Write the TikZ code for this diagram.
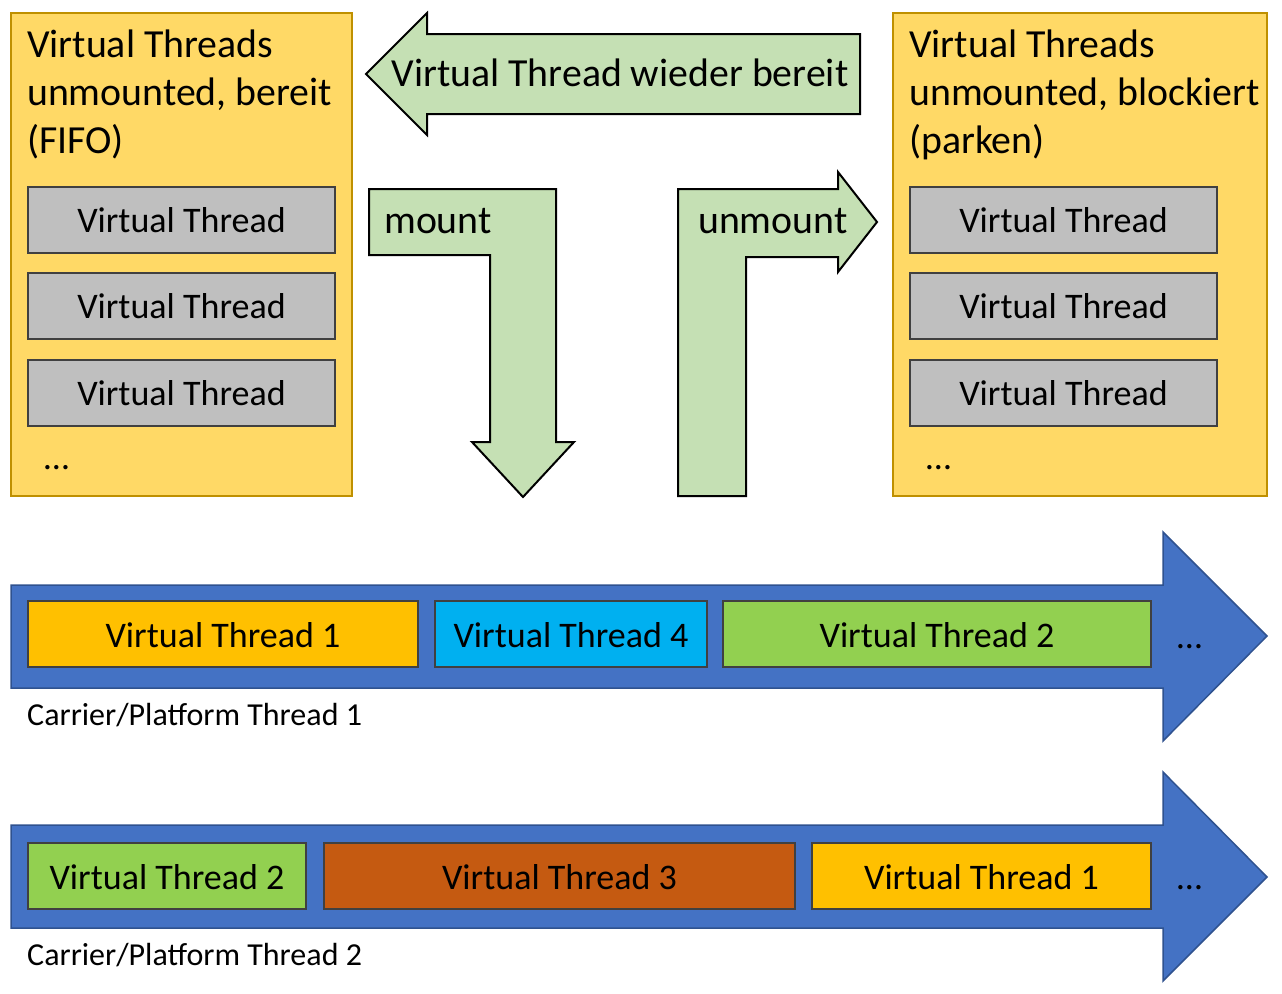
\documentclass[tikz,border=0pt]{standalone}
\usepackage{fontspec}
\setmainfont{Carlito}
\definecolor{ybox}{HTML}{FFD966}
\definecolor{yborder}{HTML}{BF9000}
\definecolor{gbox}{HTML}{BFBFBF}
\definecolor{dborder}{HTML}{404040}
\definecolor{garrow}{HTML}{C5E0B4}
\definecolor{barrow}{HTML}{4472C4}
\definecolor{bborder}{HTML}{2F528F}
\definecolor{cgold}{HTML}{FFC000}
\definecolor{ccyan}{HTML}{00B0F0}
\definecolor{clime}{HTML}{92D050}
\definecolor{corange}{HTML}{C55A11}
\begin{document}
\begin{tikzpicture}[x=1pt,y=-1pt,
  titlefont/.style={font=\fontsize{39.8}{48}\selectfont},
  boxfont/.style={font=\fontsize{36}{43}\selectfont},
  panel/.style={fill=ybox,draw=yborder,line width=2pt},
  vtbox/.style={draw=dborder,line width=2.5pt,inner sep=0pt,outer sep=0pt},
  vtlabel/.style={boxfont,anchor=base,inner sep=0pt},
  greenarrow/.style={fill=garrow,draw=black,line width=2pt,line join=miter},
  bluearrow/.style={fill=barrow,draw=bborder,line width=1.5pt,line join=miter},
  txt/.style={inner sep=0pt,anchor=base west}
]
\useasboundingbox (0,0) rectangle (1282,993);

% left panel
\draw[panel] (11,13) rectangle (352,496);
\node[txt,titlefont,align=left] (lt) at (27,153) {Virtual Threads\\unmounted, bereit\\(FIFO)};
\foreach \y/\n in {187/a,273/b,360/c}{
  \draw[vtbox,fill=gbox] (28,\y) rectangle (335,\y+66);
  \node[vtlabel] (l\n) at (181.5,\y+45.7) {Virtual Thread};
}
\node[txt,boxfont] (ldots) at (44,469) {…};

% right panel
\draw[panel] (893,13) rectangle (1267,496);
\node[txt,titlefont,align=left] (rt) at (909,153) {Virtual Threads\\unmounted, blockiert\\(parken)};
\foreach \y/\n in {187/a,273/b,360/c}{
  \draw[vtbox,fill=gbox] (910,\y) rectangle (1217,\y+66);
  \node[vtlabel] (r\n) at (1063.5,\y+45.7) {Virtual Thread};
}
\node[txt,boxfont] (rdots) at (926,469) {…};

% green arrows
\draw[greenarrow] (366,74) -- (427,13) -- (427,34) -- (860,34) -- (860,114) -- (427,114) -- (427,135) -- cycle;
\node[txt,titlefont,anchor=base] (back) at (620,86) {Virtual Thread wieder bereit};

\draw[greenarrow] (369,189) -- (556,189) -- (556,442) -- (574,442) -- (523,497) -- (472,442) -- (490,442) -- (490,255) -- (369,255) -- cycle;
\node[txt,titlefont] (mount) at (384,233) {mount};

\draw[greenarrow] (678,496) -- (678,189) -- (838,189) -- (838,172) -- (877,222) -- (838,272) -- (838,257) -- (746,257) -- (746,496) -- cycle;
\node[txt,titlefont] (unmount) at (698,233) {unmount};

% carrier thread 1
\draw[bluearrow] (11,585) -- (1163,585) -- (1163,532) -- (1267,636) -- (1163,741) -- (1163,688) -- (11,688) -- cycle;
\draw[vtbox,fill=cgold] (28,601) rectangle (418,667);
\node[vtlabel] (c1a) at (223,647) {Virtual Thread 1};
\draw[vtbox,fill=ccyan] (435,601) rectangle (707,667);
\node[vtlabel] (c1b) at (571,647) {Virtual Thread 4};
\draw[vtbox,fill=clime] (723,601) rectangle (1151,667);
\node[vtlabel] (c1c) at (937,647) {Virtual Thread 2};
\node[txt,boxfont] (c1dots) at (1177,648) {…};
\node[txt,font=\fontsize{32}{38}\selectfont] (cp1) at (27,725) {Carrier/Platform Thread 1};

% carrier thread 2
\draw[bluearrow] (11,825) -- (1163,825) -- (1163,772) -- (1267,877) -- (1163,981) -- (1163,928) -- (11,928) -- cycle;
\draw[vtbox,fill=clime] (28,843) rectangle (306,909);
\node[vtlabel] (c2a) at (167,889) {Virtual Thread 2};
\draw[vtbox,fill=corange] (324,843) rectangle (795,909);
\node[vtlabel] (c2b) at (559.5,889) {Virtual Thread 3};
\draw[vtbox,fill=cgold] (812,843) rectangle (1151,909);
\node[vtlabel] (c2c) at (981.5,889) {Virtual Thread 1};
\node[txt,boxfont] (c2dots) at (1177,889) {…};
\node[txt,font=\fontsize{32}{38}\selectfont] (cp2) at (27,965) {Carrier/Platform Thread 2};
\end{tikzpicture}
\end{document}
